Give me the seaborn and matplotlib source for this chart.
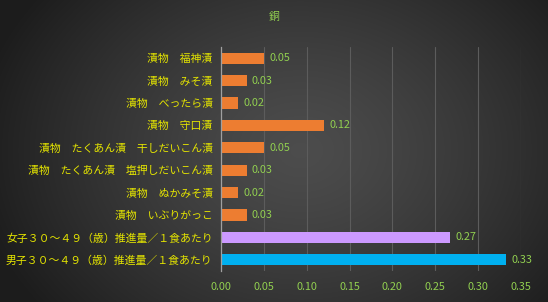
import numpy as np
import pandas as pd
import matplotlib
matplotlib.use("Agg")
import matplotlib.pyplot as plt
import seaborn as sns

title = "銅"
categories = [
    "漬物　福神漬",
    "漬物　みそ漬",
    "漬物　べったら漬",
    "漬物　守口漬",
    "漬物　たくあん漬　干しだいこん漬",
    "漬物　たくあん漬　塩押しだいこん漬",
    "漬物　ぬかみそ漬",
    "漬物　いぶりがっこ",
    "女子３０～４９（歳）推進量／１食あたり",
    "男子３０～４９（歳）推進量／１食あたり",
]
values = [0.05, 0.03, 0.02, 0.12, 0.05, 0.03, 0.02, 0.03, 0.267, 0.333]
bar_colors = ["#ED7D31"] * 8 + ["#CC99FF", "#00B0F0"]
x_ticks = [0.00, 0.05, 0.10, 0.15, 0.20, 0.25, 0.30, 0.35]

sns.set_theme(style="dark")
plt.rcParams["font.family"] = ["Noto Sans CJK JP", "DejaVu Sans"]

fig = plt.figure(figsize=(5.48, 3.02), dpi=100)

# radial gradient background
bg = fig.add_axes([0, 0, 1, 1], zorder=0)
yy, xx = np.mgrid[0:302, 0:548]
cx, cy = 300, 150
d = np.sqrt(((xx - cx) / 330.0) ** 2 + ((yy - cy) / 260.0) ** 2)
d = np.clip(d, 0, 1)
g = 0.30 - 0.19 * d ** 1.3
img = np.dstack([g, g, g])
bg.imshow(img, aspect="auto", extent=[0, 1, 0, 1], origin="upper")
bg.set_axis_off()

ax = fig.add_axes([221 / 548, 1 - 271 / 302, 300 / 548, 224 / 302], zorder=1)
ax.set_facecolor("none")

df = pd.DataFrame({"cat": categories, "val": values})
sns.barplot(data=df, x="val", y="cat", hue="cat", palette=bar_colors,
            legend=False, width=0.5, ax=ax, saturation=1, edgecolor="none")

ax.set_xlim(0, 0.35)
ax.set_xticks(x_ticks)
ax.set_xticklabels([f"{t:.2f}" for t in x_ticks])
ax.set_xlabel("")
ax.set_ylabel("")
ax.grid(axis="x", color="#5c5c5c", linewidth=0.8)
ax.grid(axis="y", visible=False)
for s in ["top", "right", "bottom"]:
    ax.spines[s].set_visible(False)
ax.spines["left"].set_color("#a0a0a0")
ax.spines["left"].set_linewidth(0.9)
ax.tick_params(axis="x", colors="#92D050", labelsize=7.8, length=0, pad=8)
ax.tick_params(axis="y", colors="#E6E600", labelsize=7.8, length=0, pad=6)
for lab in ax.get_yticklabels():
    lab.set_color("#E6E600")
for lab in ax.get_xticklabels():
    lab.set_color("#92D050")

for i, v in enumerate(values):
    ax.text(v + 0.006, i, f"{v:.2f}", va="center", ha="left",
            color="#92D050", fontsize=7.8)

fig.text(274 / 548, 1 - 17 / 302, title, ha="center", va="center",
         color="#92D050", fontsize=7.8)

fig.savefig("out.png", dpi=100)
